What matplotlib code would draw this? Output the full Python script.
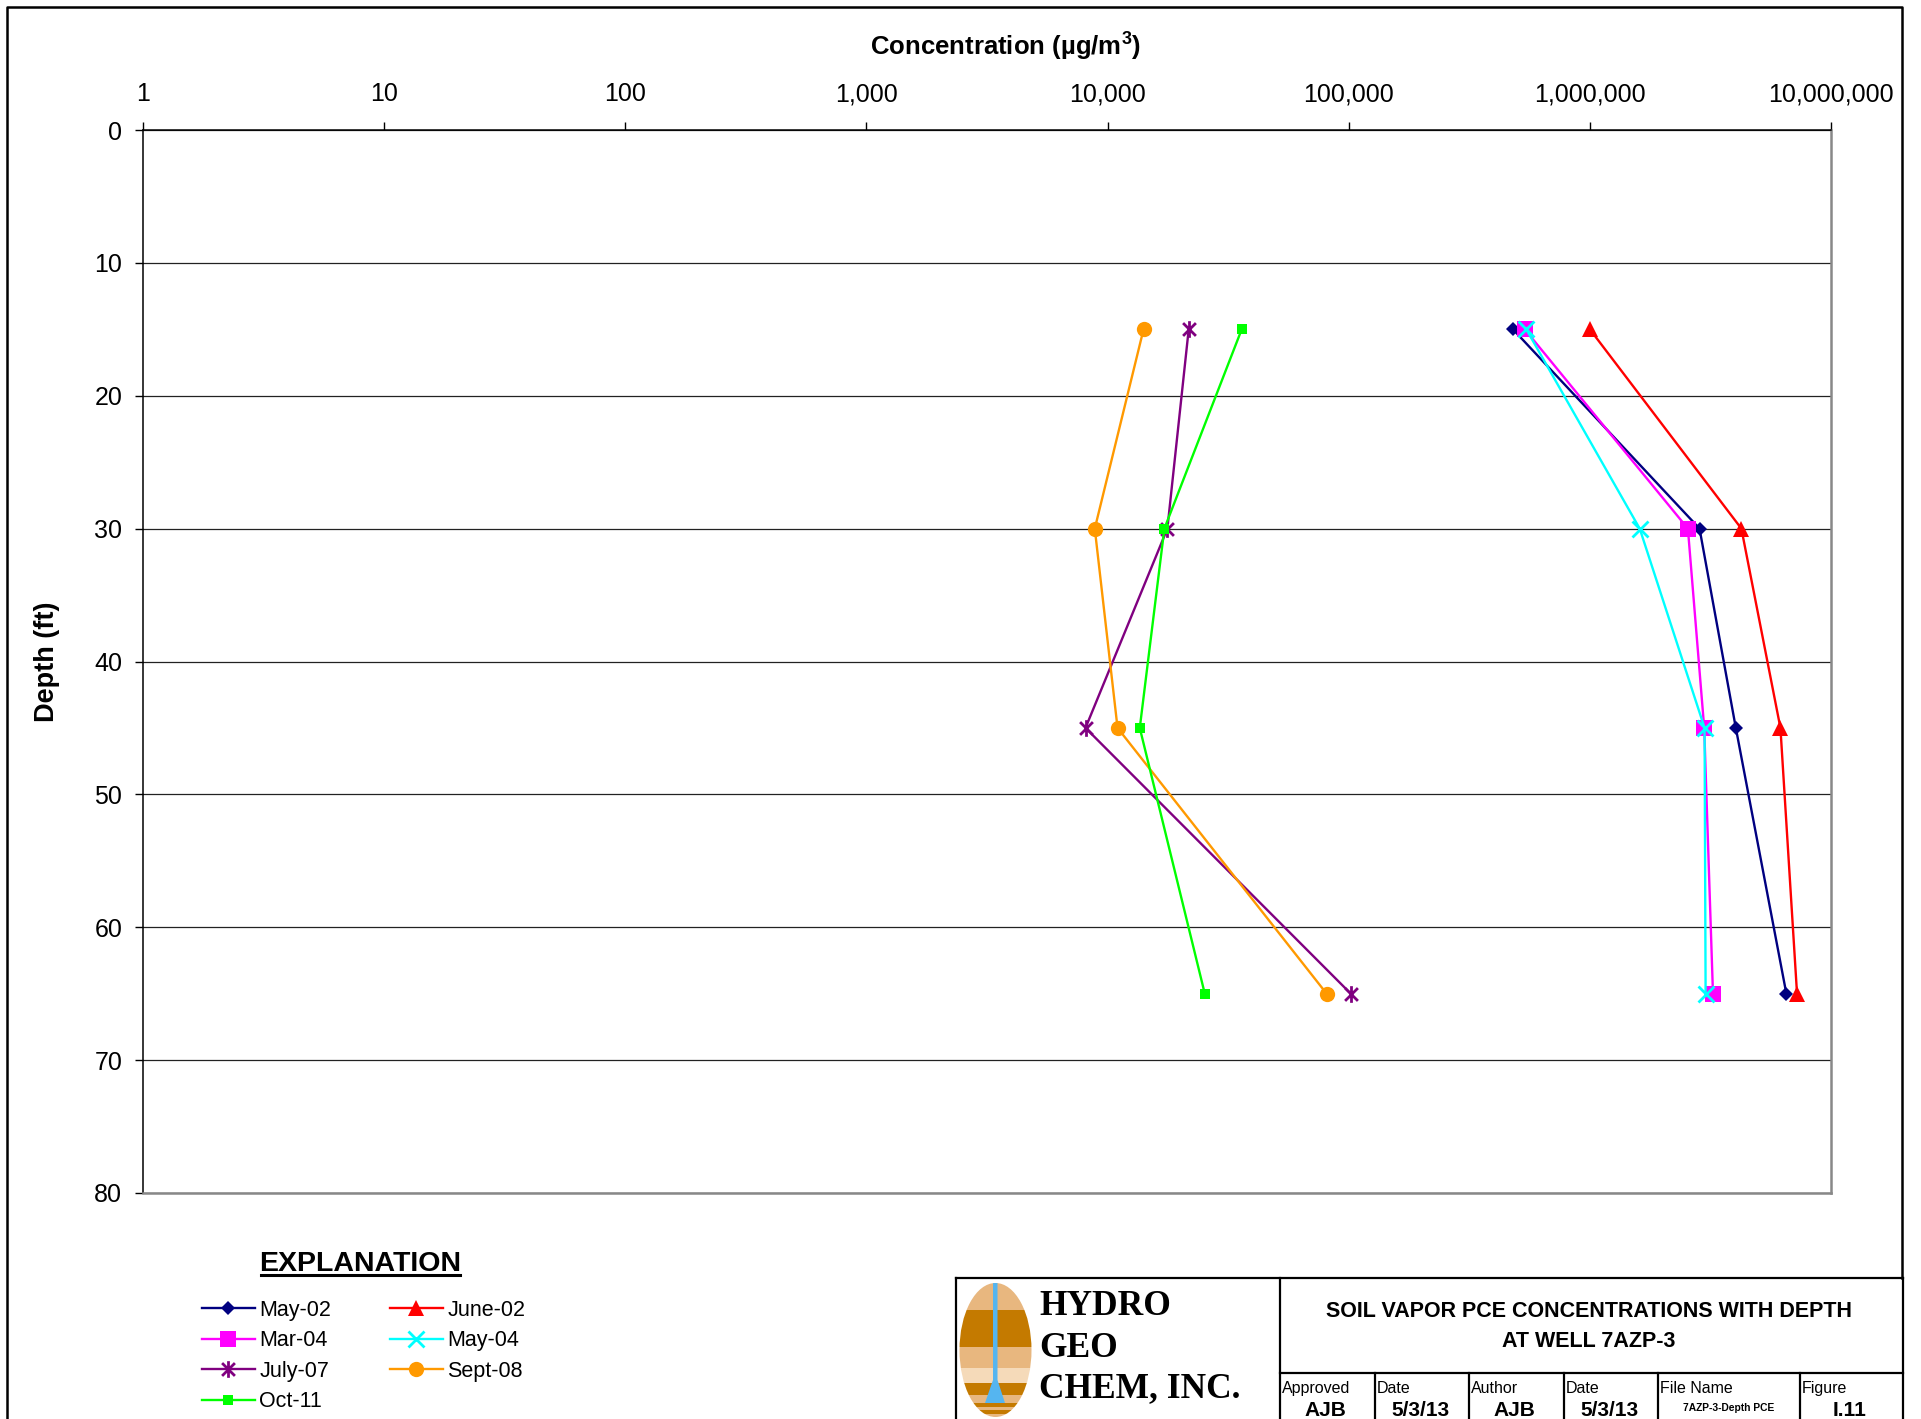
import numpy as np
import matplotlib
matplotlib.use("Agg")
from matplotlib import pyplot as plt
from matplotlib.path import Path
from matplotlib.patches import Ellipse, Rectangle, Polygon
from matplotlib.ticker import FixedLocator, FuncFormatter

plt.rcParams['font.family'] = ['Liberation Sans', 'DejaVu Sans']
plt.rcParams['mathtext.fontset'] = 'custom'
plt.rcParams['mathtext.rm'] = 'Liberation Sans'
plt.rcParams['mathtext.bf'] = 'Liberation Sans:bold'

# Sample depths (ft)
depth = [15, 30, 45, 65]

# PCE concentration (ug/m3) per sampling event
may_02 = [480000, 2850000, 4030000, 6530000]
june_02 = [1000000, 4250000, 6170000, 7230000]
mar_04 = [537000, 2550000, 2980000, 3240000]
may_04 = [545000, 1610000, 2990000, 3020000]
july_07 = [21700, 17700, 8100, 102000]
sept_08 = [14100, 8850, 11000, 81000]
oct_11 = [36000, 17200, 13600, 25300]

labels = ["May-02", "June-02", "Mar-04", "May-04", "July-07", "Sept-08", "Oct-11"]
x_ticks = [1, 10, 100, 1000, 10000, 100000, 1000000, 10000000]
y_ticks = [0, 10, 20, 30, 40, 50, 60, 70, 80]

W, H = 1921, 1419

# Excel style asterisk: X with a vertical bar
star = Path([(-1, -1), (1, 1), (-1, 1), (1, -1), (0, -1.3), (0, 1.3)],
            [Path.MOVETO, Path.LINETO, Path.MOVETO, Path.LINETO, Path.MOVETO, Path.LINETO])

styles = [
    dict(color='#000080', marker='D', ms=7.5),
    dict(color='#FF0000', marker='^', ms=11),
    dict(color='#FF00FF', marker='s', ms=11),
    dict(color='#00FFFF', marker='x', ms=11, mew=2),
    dict(color='#800080', marker=star, ms=12, mew=2),
    dict(color='#FF9900', marker='o', ms=11),
    dict(color='#00FF00', marker='s', ms=6.5),
]
series = [may_02, june_02, mar_04, may_04, july_07, sept_08, oct_11]

fig = plt.figure(figsize=(W / 100, H / 100), dpi=100)

# background overlay in pixel coordinates for border, title block and logo
bg = fig.add_axes([0, 0, 1, 1], zorder=-1)
bg.set_xlim(0, W)
bg.set_ylim(H, 0)
bg.axis('off')

ax = fig.add_axes([143 / W, 1 - 1193 / H, (1831 - 143) / W, (1193 - 130) / H])

handles = []
for vals, lab, st in zip(series, labels, styles):
    st = dict(st)
    mew = st.pop('mew', 0)
    h, = ax.plot(vals, depth, label=lab, lw=1.7, markeredgewidth=mew,
                 markeredgecolor=st['color'], markerfacecolor=st['color'], **st)
    handles.append(h)

ax.set_xscale('log')
ax.set_xlim(1, 1e7)
ax.set_ylim(80, 0)
ax.xaxis.set_major_locator(FixedLocator(x_ticks))
ax.xaxis.set_minor_locator(FixedLocator([]))
ax.xaxis.set_major_formatter(FuncFormatter(lambda v, p: f"{int(round(v)):,}"))
ax.set_yticks(y_ticks)
ax.xaxis.tick_top()
ax.tick_params(axis='x', which='major', direction='out', length=6, width=1,
               labelsize=18, pad=11, colors='black')
ax.tick_params(axis='y', which='major', direction='out', length=6, width=1,
               labelsize=18, pad=9)
ax.grid(axis='y', color='#222222', lw=0.9)
ax.set_axisbelow(True)
for s in ['top', 'left']:
    ax.spines[s].set_color('black')
    ax.spines[s].set_linewidth(1.1)
for s in ['right', 'bottom']:
    ax.spines[s].set_color('#888888')
    ax.spines[s].set_linewidth(1.8)

fig.text(1006 / W, 1 - 55 / H, r"Concentration (µg/m$^{\mathbf{3}}$)", fontsize=18.5,
         fontweight='bold', ha='center', va='baseline')
fig.text(47 / W, 1 - 662 / H, "Depth (ft)", fontsize=19.5, fontweight='bold',
         rotation=90, ha='center', va='center')

# legend ("EXPLANATION")
bg.text(360, 1271, "EXPLANATION", fontsize=20.5, fontweight='bold', ha='center', va='baseline')
bg.plot([261, 460], [1275, 1275], color='black', lw=2.2)
order = [0, 2, 4, 6, 1, 3, 5]
fig.legend([handles[i] for i in order], [labels[i] for i in order], ncol=2,
           loc='upper left', bbox_to_anchor=(202 / W, 1 - 1300 / H), frameon=False,
           fontsize=15.5, handlelength=2.45, handletextpad=0.22, columnspacing=2.72,
           labelspacing=0.44, borderpad=0, borderaxespad=0)

# outer border
bg.plot([7, 7, 1902, 1902], [H + 5, 7, 7, 1278], color='black', lw=1.8, clip_on=False)

# title block
lk = dict(color='black', lw=1.6, clip_on=False)
bg.plot([956, 1903], [1278, 1278], **lk)
bg.plot([956, 956], [1278, H + 5], **lk)
bg.plot([1903, 1903], [1278, H + 5], **lk)
bg.plot([1280, 1280], [1278, H + 5], **lk)
bg.plot([1280, 1903], [1373, 1373], **lk)
cells = [1280, 1375, 1469, 1564, 1658, 1800, 1903]
for cx in cells[1:-1]:
    bg.plot([cx, cx], [1373, H + 5], **lk)

bg.text(1589, 1317, "SOIL VAPOR PCE CONCENTRATIONS WITH DEPTH", fontsize=15.5,
        fontweight='bold', ha='center', va='baseline')
bg.text(1589, 1347, "AT WELL 7AZP-3", fontsize=15.5, fontweight='bold',
        ha='center', va='baseline')

cell_labels = ["Approved", "Date", "Author", "Date", "File Name", "Figure"]
cell_values = ["AJB", "5/3/13", "AJB", "5/3/13", "7AZP-3-Depth PCE", "I.11"]
for i, (lab, val) in enumerate(zip(cell_labels, cell_values)):
    x0, x1 = cells[i], cells[i + 1]
    bg.text(x0 + 2, 1393, lab, fontsize=11.5, ha='left', va='baseline')
    if val.startswith("7AZP"):
        bg.text((x0 + x1) / 2, 1411, val, fontsize=7.4, fontweight='bold',
                ha='center', va='baseline')
    else:
        bg.text((x0 + x1) / 2 - 2, 1416, val, fontsize=15, fontweight='bold',
                ha='center', va='baseline')

# logo
ell = Ellipse((995.5, 1350), 72, 134, facecolor='none', edgecolor='none')
bg.add_patch(ell)
tan, brown, pale = '#E8B77F', '#C47A00', '#F5DAB9'
stripes = [(1280, 1310, tan), (1310, 1347, brown), (1347, 1368, tan),
           (1368, 1383, pale), (1383, 1395, brown), (1395, 1403, tan),
           (1403, 1407, brown), (1407, 1410, tan), (1410, 1414, brown),
           (1414, 1420, tan)]
for y0, y1, c in stripes:
    r = Rectangle((955, y0), 85, y1 - y0, facecolor=c, edgecolor='none')
    bg.add_patch(r)
    r.set_clip_path(ell)
drop = Polygon([(993, 1283), (997.5, 1283), (997.5, 1380), (1005, 1403),
                (985, 1403), (993, 1380)], closed=True, facecolor='#55B5F0', edgecolor='none')
bg.add_patch(drop)
drop.set_clip_path(ell)
for txt, yb in [("HYDRO", 1315), ("GEO", 1357), ("CHEM, INC.", 1397)]:
    bg.text(1039, yb, txt, fontsize=25.5, fontweight='bold', family='Liberation Serif',
            ha='left', va='baseline')

fig.savefig("out.png", dpi=100)
